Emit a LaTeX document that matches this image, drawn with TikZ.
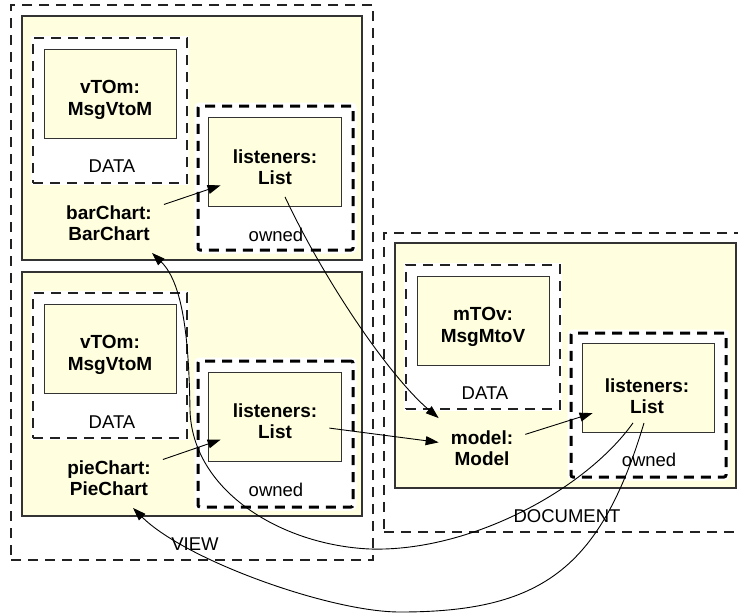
\documentclass[tikz,border=0pt]{standalone}
\usepackage{fontspec}
\setmainfont{Liberation Sans}
\usetikzlibrary{arrows.meta,calc}
\definecolor{panelfill}{HTML}{FFFFE0}
\definecolor{edgec}{HTML}{333333}
\definecolor{dashc}{HTML}{222222}
\newcommand\rbox[6]{\node[#2, minimum width={#5-#3}, minimum height={#6-#4}] (#1) at ({(#3+#5)/2},{(#4+#6)/2}) {};}
\begin{document}
\begin{tikzpicture}[x=1pt,y=-1pt,
  outerdash/.style={draw=dashc, line width=1.1pt, dash pattern=on 10pt off 7pt, inner sep=0pt},
  panel/.style={draw=edgec, fill=panelfill, line width=1.2pt, inner sep=0pt},
  clsbox/.style={draw=edgec, fill=panelfill, line width=1pt, inner sep=0pt},
  databox/.style={preaction={draw=white, line width=4pt, solid}, draw=dashc, fill=white, line width=1.1pt, dash pattern=on 10pt off 7pt, inner sep=0pt},
  ownbox/.style={preaction={draw=white, line width=7pt, solid}, draw=black, fill=white, line width=3pt, dash pattern=on 10pt off 7pt, rounded corners=2pt, inner sep=0pt},
  lbl/.style={font=\fontsize{19}{21.5}\selectfont\bfseries, align=center, inner xsep=12pt, inner ysep=12pt},
  tag/.style={font=\fontsize{18.5}{21.5}\selectfont, inner sep=1pt},
  conn/.style={draw=black, line width=0.9pt, -{Triangle[length=13pt,width=9pt]}}]
\path[use as bounding box, fill=white] (0,0) rectangle (738,614);

\rbox{view}{outerdash}{11}{5}{373}{560}
\rbox{doc}{outerdash}{384}{233}{780}{532}

\rbox{p1}{panel}{22}{16}{362}{260}
\rbox{p2}{panel}{22}{272}{362}{516}
\rbox{p3}{panel}{395}{243}{736}{488}

\rbox{d1}{databox}{33}{38}{187}{183}
\rbox{c1}{clsbox}{44}{49}{176}{138}
\rbox{o1}{ownbox}{198}{106}{353}{250}
\rbox{b1}{clsbox}{208}{117}{341}{206}

\rbox{d2}{databox}{33}{293}{187}{438}
\rbox{c2}{clsbox}{44}{304}{176}{393}
\rbox{o2}{ownbox}{198}{361}{353}{507}
\rbox{b2}{clsbox}{208}{372}{341}{461}

\rbox{d3}{databox}{406}{265}{560}{409}
\rbox{c3}{clsbox}{417}{276}{549}{365}
\rbox{o3}{ownbox}{571}{333}{726}{477}
\rbox{b3}{clsbox}{582}{343}{714}{432}

\node[lbl] (vm1) at (110,100) {vTOm:\\MsgVtoM};
\node[lbl] (vm2) at (110,355) {vTOm:\\MsgVtoM};
\node[lbl] (mv) at (483,327) {mTOv:\\MsgMtoV};
\node[lbl] (l1t) at (275,167) {listeners:\\List};
\node[lbl] (l2t) at (275,421) {listeners:\\List};
\node[lbl] (l3t) at (647,396) {listeners:\\List};
\node[lbl] (bar) at (109,223) {barChart:\\BarChart};
\node[lbl] (pie) at (109,478) {pieChart:\\PieChart};
\node[lbl] (model) at (482,448) {model:\\Model};

\node[tag] (dt1) at (112,166) {DATA};
\node[tag] (dt2) at (112,422) {DATA};
\node[tag] (dt3) at (485,393) {DATA};
\node[tag] (ow1) at (276,235) {owned};
\node[tag] (ow2) at (276,490) {owned};
\node[tag] (ow3) at (649,460) {owned};
\node[tag] (vl) at (195,544) {VIEW};
\node[tag] (dl) at (567,516) {DOCUMENT};

\draw[conn] (bar) -- (l1t);
\draw[conn] (pie) -- (l2t);
\draw[conn] (l2t) -- (model);
\draw[conn] (model) -- (l3t);
\draw[conn] ($(l1t.south)+(10,0)$) .. controls (325,282) and (390,377) .. (model.north west);
\draw[conn] ($(l3t.south)+(-14,-3)$) .. controls (585,490) and (470,552) .. (370,549)
  .. controls (280,545) and (192,490) .. (190,410)
  .. controls (189,350) and (185,285) .. ($(bar.south)+(43,0)$);
\draw[conn] ($(l3t.south)+(-3,-3)$) .. controls (600,570) and (540,612) .. (400,612)
  .. controls (330,612) and (185,560) .. ($(pie.south)+(24,0)$);
\end{tikzpicture}
\end{document}
